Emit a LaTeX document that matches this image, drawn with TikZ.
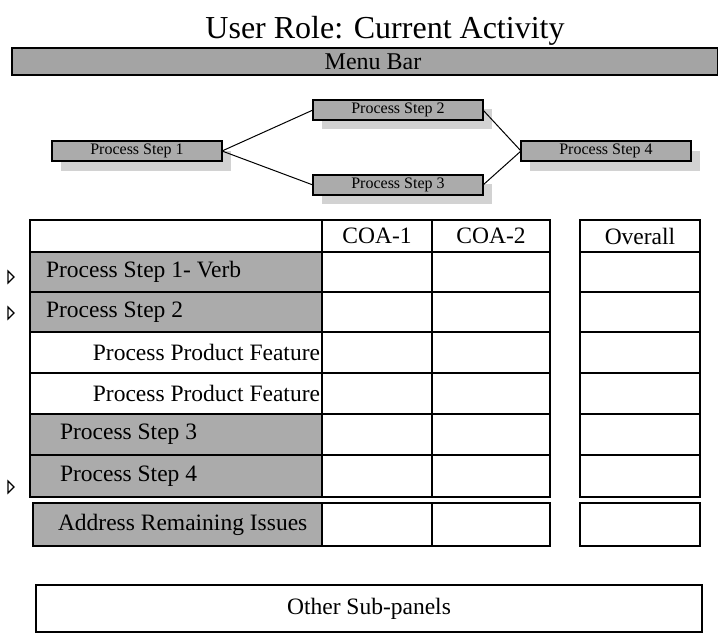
\documentclass[tikz,border=0pt]{standalone}
\usepackage{fontspec}
\setmainfont{Liberation Serif}
\begin{document}
\begin{tikzpicture}[x=1pt,y=-1pt,
  every node/.style={inner sep=0pt, outer sep=0pt},
  flowbox/.style={draw, line width=1.1pt, fill=boxgray, minimum width=170pt, minimum height=20pt, font=\fontsize{16}{16}\selectfont},
  shadowbox/.style={fill=shadowgray, minimum width=170pt, minimum height=20pt},
  link/.style={line width=1pt},
  cell/.style={draw, line width=1.1pt, anchor=north west},
  graycell/.style={cell, fill=boxgray},
  celltext/.style={font=\fontsize{23.5}{23.5}\selectfont},
  marker/.style={draw, line width=1.2pt, fill=white}]
\definecolor{boxgray}{HTML}{ABABAB}
\definecolor{bargray}{HTML}{A4A4A4}
\definecolor{shadowgray}{HTML}{D2D2D2}
\useasboundingbox (0,0) rectangle (718,635);

% title and menu bar
\node[font=\fontsize{32}{32}\selectfont, anchor=base] (title) at (385,38) {User Role: Current Activity};
\node[draw, line width=1.2pt, fill=bargray, anchor=north west, minimum width=706pt, minimum height=27pt] (menubar) at (12,48) {};
\node[font=\fontsize{24}{24}\selectfont] (menutext) at (373,62) {Menu Bar};

% process flow
\node[shadowbox] (sh1) at (146,161) {};
\node[shadowbox] (sh2) at (407,119) {};
\node[shadowbox] (sh3) at (407,194) {};
\node[shadowbox] (sh4) at (615,161) {};
\node[flowbox] (p1) at (137,151) {Process Step 1};
\node[flowbox] (p2) at (398,110) {Process Step 2};
\node[flowbox] (p3) at (398,185) {Process Step 3};
\node[flowbox] (p4) at (606,151) {Process Step 4};
\draw[link] (p1.east) -- (p2.west);
\draw[link] (p1.east) -- (p3.west);
\draw[link] (p2.east) -- (p4.west);
\draw[link] (p3.east) -- (p4.west);

% table header
\node[cell, minimum width=292pt, minimum height=32pt] (h0) at (30,220) {};
\node[cell, minimum width=110pt, minimum height=32pt] (h1) at (322,220) {};
\node[cell, minimum width=118pt, minimum height=32pt] (h2) at (432,220) {};
\node[cell, minimum width=120pt, minimum height=32pt] (h3) at (580,220) {};
\node[celltext] at (h1.center) {COA-1};
\node[celltext] at (h2.center) {COA-2};
\node[celltext] at (h3.center) {Overall};

% rows
\foreach \t/\h/\st [count=\i] in {252/40/graycell, 292/40/graycell, 332/41/cell, 373/41/cell, 414/41/graycell, 455/42/graycell}{
  \node[\st, minimum width=292pt, minimum height=\h pt] (l\i) at (30,\t) {};
  \node[cell, minimum width=110pt, minimum height=\h pt] (a\i) at (322,\t) {};
  \node[cell, minimum width=118pt, minimum height=\h pt] (b\i) at (432,\t) {};
  \node[cell, minimum width=120pt, minimum height=\h pt] (o\i) at (580,\t) {};
}
\node[celltext, anchor=west] (t1) at (46,272) {Process Step 1- Verb};
\node[celltext, anchor=west] (t2) at (46,312) {Process Step 2};
\node[celltext, anchor=east] (t3) at (320,352.5) {Process Product Feature};
\node[celltext, anchor=east] (t4) at (320,393.5) {Process Product Feature};
\node[celltext, anchor=west] (t5) at (60,434.5) {Process Step 3};
\node[celltext, anchor=west] (t6) at (60,476) {Process Step 4};

% address row
\node[graycell, minimum width=289pt, minimum height=43pt] (ar) at (33,503) {};
\node[cell, minimum width=110pt, minimum height=43pt] (ar1) at (322,503) {};
\node[cell, minimum width=118pt, minimum height=43pt] (ar2) at (432,503) {};
\node[cell, minimum width=120pt, minimum height=43pt] (ar3) at (580,503) {};
\node[celltext, anchor=west] (arText) at (58,524.5) {Address Remaining Issues};

% other sub-panels
\node[cell, minimum width=666pt, minimum height=47pt] (other) at (36,585) {};
\node[celltext] at (other.center) {Other Sub-panels};

% markers
\draw[marker] (8,271) -- (14,277) -- (8,283) -- cycle;
\draw[marker] (8,307) -- (14,313) -- (8,319) -- cycle;
\draw[marker] (8,481) -- (14,487) -- (8,493) -- cycle;
\end{tikzpicture}
\end{document}
